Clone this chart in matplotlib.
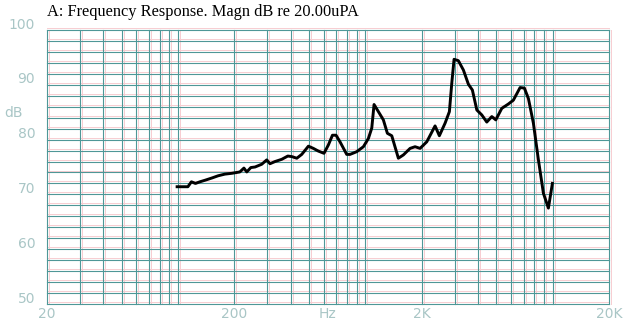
"""Respuesta en frecuencia (magnitud en dB re 20 uPa)."""

import matplotlib
matplotlib.use("Agg")
import matplotlib.pyplot as plt

# Valores
freq_hz = [99, 113, 118, 124, 131, 140, 152, 164, 178, 194,
           214, 225, 233, 245, 258, 280, 298, 310, 330, 358,
           386, 405, 431, 458, 497, 528, 562, 602, 635, 668,
           698, 733, 796, 829, 901, 977, 1039, 1083, 1114, 1175,
           1249, 1312, 1385, 1502, 1597, 1735, 1844, 1961, 2130, 2358,
           2486, 2667, 2812, 2896, 2978, 3140, 3340, 3552, 3730, 3940,
           4188, 4452, 4736, 4974, 5354, 5808, 6174, 6706, 7068, 7426,
           7896, 8398, 8932, 9496, 9974]
magn_db = [71.4, 71.4, 72.3, 72.0, 72.3, 72.6, 73.0, 73.4, 73.7, 73.85,
           74.1, 74.8, 74.1, 74.9, 75.0, 75.5, 76.3, 75.6, 76.0, 76.4,
           77.0, 76.9, 76.6, 77.3, 78.8, 78.4, 77.9, 77.5, 79.0, 80.8,
           80.8, 79.6, 77.3, 77.3, 77.8, 78.7, 80.2, 82.1, 86.4, 85.1,
           83.6, 81.15, 80.7, 76.6, 77.2, 78.4, 78.7, 78.4, 79.6, 82.5,
           80.7, 83.0, 85.1, 90.3, 94.65, 94.4, 92.7, 90.1, 89.05, 85.4,
           84.5, 83.2, 84.2, 83.6, 85.7, 86.5, 87.2, 89.5, 89.4, 87.5,
           83.0, 76.3, 70.2, 67.5, 72.0]

# Rejilla y etiquetas
grid_freqs = ([20, 30, 40, 50, 60, 70, 80, 90]
              + [100, 200, 300, 400, 500, 600, 700, 800, 900]
              + [1000, 2000, 3000, 4000, 5000, 6000, 7000, 8000, 9000]
              + [10000, 20000])
grid_db = list(range(50, 101, 2))
ytick_vals = [50, 60, 70, 80, 90, 100]
ytick_labels = ["50", "60", "70", "80", "90", "100"]
xtick_vals = [20, 200, 632, 2000, 20000]
xtick_labels = ["20", "200", "Hz", "2K", "20K"]

title = "A: Frequency Response. Magn dB re 20.00uPA"

teal = "#4e9797"
pink = "#f7cdd1"
label_color = "#a9c6c6"

fig = plt.figure(figsize=(6.25, 3.21), dpi=100)
ax = fig.add_axes([47 / 625, 17 / 321, 562 / 625, 274 / 321])
ax.set_xscale("log")
ax.set_xlim(20, 20000)
ax.set_ylim(50, 100)

for v in grid_db:
    ax.axhline(v + 0.36, color=pink, lw=0.7, zorder=1, clip_on=False)
    ax.axhline(v, color=teal, lw=0.8, zorder=2, clip_on=False)
for f in grid_freqs:
    ax.axvline(f * 1.025, color=pink, lw=0.7, zorder=1, clip_on=False)
    ax.axvline(f, color=teal, lw=0.8, zorder=2, clip_on=False)

ax.plot(freq_hz, magn_db, color="black", lw=2.1, zorder=3,
        solid_joinstyle="round")

for spine in ax.spines.values():
    spine.set_visible(False)
ax.set_xticks([])
ax.set_yticks([])
ax.minorticks_off()

ytr = ax.get_yaxis_transform()
for v, lab in zip(ytick_vals, ytick_labels):
    ax.text(-0.021, v + 1.0, lab, transform=ytr, ha="right", va="center",
            fontsize=10, color=label_color, family="DejaVu Sans")
ax.text(-0.044, 84.8, "dB", transform=ytr, ha="right", va="center",
        fontsize=10, color=label_color, family="DejaVu Sans")

xtr = ax.get_xaxis_transform()
for f, lab in zip(xtick_vals, xtick_labels):
    ax.text(f, -0.035, lab, transform=xtr, ha="center", va="center",
            fontsize=10, color=label_color, family="DejaVu Sans")

fig.text(47 / 625, 1 - 12 / 321, title, ha="left", va="center",
         fontsize=11.8, family="Liberation Serif", color="black")

fig.savefig("out.png", dpi=100, facecolor="white")
